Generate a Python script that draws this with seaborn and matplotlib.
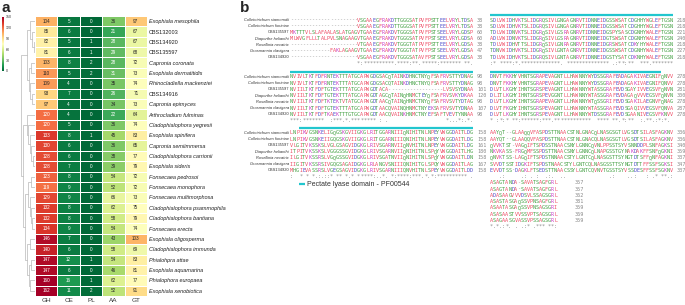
import pandas as pd
import seaborn as sns
import matplotlib.pyplot as plt

sns.set_theme(style="white")
plt.rcParams["font.family"] = ["Liberation Sans", "DejaVu Sans"]

# ---- panel a: CAZyme counts ----
species = ["Exophiala mesophila", "CBS132003", "CBS134920", "CBS135597", "Capronia coronata",
           "Exophiala dermatitidis", "Rhinocladiella mackenziei", "CBS134916", "Capronia epimyces",
           "Arthrocladium fulminas", "Cladophialophora yegresii", "Exophiala spinifera",
           "Capronia semiimmersa", "Cladophialophora carrionii", "Exophiala sideris",
           "Fonsecaea pedrosoi", "Fonsecaea monophora", "Fonsecaea multimorphosa",
           "Cladophialophora psammophila", "Cladophialophora bantiana", "Fonsecaea erecta",
           "Exophiala oligosperma", "Cladophialophora immunda", "Phialohpra attae",
           "Exophiala aquamarina", "Phialophora europaea", "Exophiala xenobiotica"]
GH = [104, 85, 82, 81, 103, 110, 109, 93, 97, 120, 120, 133, 130, 128, 128, 123, 119, 129,
      132, 132, 134, 146, 140, 147, 147, 160, 162]
CE = [5, 6, 5, 6, 8, 5, 4, 7, 4, 4, 5, 8, 6, 6, 7, 8, 9, 9, 8, 8, 9, 7, 6, 12, 6, 16, 11]
PL = [0, 0, 1, 1, 2, 2, 0, 0, 0, 0, 0, 1, 0, 0, 0, 0, 0, 0, 0, 0, 0, 0, 0, 1, 0, 1, 2]
AA = [36, 21, 28, 29, 28, 31, 35, 26, 34, 22, 36, 45, 36, 38, 39, 54, 52, 66, 62, 58, 54,
      43, 58, 54, 46, 62, 52]
GT = [97, 67, 67, 68, 72, 73, 74, 71, 73, 64, 74, 83, 65, 77, 79, 72, 72, 73, 75, 79, 74,
      103, 69, 83, 81, 77, 91]
families = ["GH", "CE", "PL", "AA", "GT"]

# clustering of the rows: (merge height, left, right), leaves are row indices
top_clade = (0.6, (0.35, 0, (0.25, 1, (0.1, 2, 3))), (0.45, (0.3, 4, 5), (0.35, 6, (0.2, 7, 8))))
bottom_clade = (0.85, (0.6, 9, (0.5, 10, (0.4, 11, (0.3, 12, (0.15, 13, 14))))),
                (0.7, (0.5, (0.3, 15, 16), (0.4, 17, (0.3, 18, (0.2, 19, 20)))),
                 (0.55, (0.4, 21, 22), (0.45, (0.3, 23, 24), (0.35, 25, 26)))))
tree = (1.0, top_clade, bottom_clade)

# ---- panel b: alignment ----
aln_names = ["Colletotrichum siamomdii", "Colletotrichum fioriniae", "CBS135597",
             "Diaporthe helianthi", "Rosellinia necatrix", "Grosmannia clavigera", "CBS134920"]
blk1 = ["----------------------VSGAAEGFRAKDTTGGGSATPVFPSTTEELVRYLTDSA",
        "----------------------VSGAAEGFRAKDTTGGGSATPVFPSTTEELVRYLTDSA",
        "MKTTTVLSLAFAALASLATGAGVTGAAEGFRAKDVTGGGSATPVFPSTSEELVRYLGDSP",
        "MLWVGFLLLTALPVLSNAGAAGVTGAAEGFRAKDVTGGGSATPVFPSTSEELVRYLGDSA",
        "----------------------VTGAAEGFRAKDVTGGGTATPVFPSTTEELVRYLGDSA",
        "-------------FAKLAGAAGVTGAAEGFRAKDVTGGGTATPVFPSTSEELVRYLGDSA",
        "----------------------VSGAAEGFRAKDVTGGGSATAVFPSTSEELVRYLGDSA"]
blk2 = ["NVIVLTKTFDFRNTEKTTTATGCAPWGDGSACQTAINKDHNCTNYQFSAFRVSTTYDNAG",
        "NVIVLTKTFDFRNTEKTTTATGCAPWGDGSACQTAINKDHNCTNYQFSAFRVSTTYDNAG",
        "NVIILTKTFDFTGTEKTTTATGCAPWGDTACA------------------LVSVSYDNAA",
        "NVIILTKTFDFTGTEKTTTATGCAPWGDTAGCQTAINQHNMCTEYQFSAFRVSVKYDKAA",
        "NVIILTKTFDFTKTEKTVTATGCAPWGDTAACQTAINQHNMCTNYQFSAFRVSVTYDTAG",
        "NVIILTKTFDFTGTEKTTTATGCAPWGDTAACQVAINQHNMCTNYEKSAFRVSVTYDNAA",
        "NVIILTKTFDFTKAEKTTTGTGCAPWGDTAACQVAINKHNMCTNYEFSAFTVEVTYNNAA"]
blk3 = ["LNPIKVGSNKELIGQGSKGVIIGKGLRITGGARNIIIQNIHITNLNPEYVWGGDAITLDG",
        "LNPIKVGSNKEIIGQGSKGVIIGKGLRITGGARNIIIQNIHITNLNPEYVWGGDAITLDG",
        "VLGITVKSSKSLVGLGSAGVIDGKGLRIVSGARNVIIQNVHITNLNPEYVWGGDAITLDG",
        "ITPITVKSSKSLVGGGSSGVIDGKGLRIVSGARNVIIQNIHITNLSPQYVWGGDAITLHG",
        "ILGITVKSSRSLVGQGSSGVIDGKGLRIVSGATNVIIQNIHITNLSPQYVWGGDAITLDN",
        "IIGITVKSSRSIVGQGSAGAIDGKGLRLANGVSNIIIQNIHITGLSPQYVWGGDAITLAG",
        "MHGIEVASSRSLVGEGSAGVIDGKGLRIVSGARNIIIQNVHITNLSPEYVWGGDAITLDD"]
blk4 = ["SDLVWIDHVKTSLIDGRQSIVLGNGAGNRVTIDNNEIDGSSWSATCDGHHYWGLEFTGSN",
        "SDLVWIDHVKTSLIDGRQSIVLGNGAGNRVTIDNNEIDGSSWSATCDGHHYWGLEFTGSN",
        "TDLVWIDNVKTSLIDGRQSIVLGSRAGNRVTIDNNEIDGSPYSASCDGNHYWALEFTGSN",
        "ADLVWIDNVKTSLIDGRQSIVLGSRAGNRVTIDNNEIDGTSWSATCDGNHYWALEFTGSN",
        "TDLVWIDHVTTSLIDGRQSIVLGNRAGNRVTIDNNEIDGRSWSATCDKYHYWALEFTGSN",
        "TDNVWIDHVKTSLIDGRQSIVLGNTAGNRVTIDNNEIDGSSWSATCDGNHYWALEFTGSN",
        "TDLVWIDHVKTSLIDGRQSIVLGNTAGNRVTIDNNEIDGSTYSATCDKNHYWALEFTGSN"]
blk5 = ["DNVTFKKHYVHNTSGRAPEVAGNTLLHAWNNYWYDSSGRAFEADAGAKIVAEGNIFQNVV",
        "DNVTFKKHYVHNTSGRAPEVAGNTLLHAWNNYWYDSSGRAFEADAGAKIVAEGNIFQNVV",
        "DLVTLKGHYIHNTSGRSPEVAGNTLLHAWNNYWTASSGRAFEVDSGAYIVVEGSVFQNVN",
        "DLITLKGHYIHNTSGRSPEVGGNTLLHAWNNYWTASSGRAFEVDAGAQVVVEGSVFQNVN",
        "DLVTLKGHYIHNTSGRAPEVAGNTLLHAWNNYWTQSSGRIFEVDSGAKILAEGNVFQNAG",
        "DLVTFKGHYIHNTSGRSPEVAGNTLLHAWNNYWTASSGRAFEVDSGAQIVVEGSVFQNVA",
        "DLVTLKGHYIHNTSGRSPEVAGNTLLHAWNNYWTDSSGRAFEVDSGAANIVEGSVFKNVV"]
blk6 = ["AAYQT--GLAAQQVFASPDSTTNAACSTNLGNACQLNASGSGTLVGSDTSILASFAGKNV",
        "AAYQT--GLAAQQVFASPDSTTNAACSTNLGNACQLNASGSGTLVGSDTSILASFAGKNV",
        "QVVKTST-VAGQIFTSPDSSTNAACSNYLGNNCQVNLPPSSTSYVSNNDDPLSNFAGKSI",
        "NKVKASS-FRGQMFSSPDSTTNAACSNYLGNNCQLNAPGSSTGYNAKDAKFFSNFQGKNI",
        "QNVKTSS-LAGQIFTSPDSTNNAACSTYLGNTCQLNASGSTTSYNGTDTSFFQNFAGKNI",
        "SVVDTSSTIDGKIFTSPDSTNAACSTYLGNTCQLNASGSSTTSYNGTDTTFFSSFSGKSI",
        "EVVDTSS-DAGKLFTSEDSTTNAACSSYLGNTCQVNVTGSSTSYVSSDESFFSSFSGKNV"]
blk7 = ["ASAGTANDA-SAVATSAGFGRL",
        "ASAGTANDA-SAVATSAGFGRL",
        "ADASAAGVVVDSVLSSAGSGRL",
        "ASASTASGAQSSVPNSAGFGRL",
        "ASAATASGAQSSVPNSAGSGRI",
        "ASASAASTVVSSVPTSAGSGRL",
        "ASAGAASGVASSVPSSAGSGRL"]
ends1 = [38, 38, 60, 60, 38, 47, 38]
ends2 = [98, 98, 101, 120, 98, 107, 98]
ends3 = [158, 158, 161, 180, 158, 167, 158]
ends4 = [218, 218, 221, 240, 218, 227, 218]
ends5 = [278, 278, 281, 300, 278, 287, 278]
ends6 = [336, 336, 340, 359, 337, 347, 337]
ends7 = [357, 357, 362, 381, 359, 369, 359]
domain_cols = [None, (0, 60), (3, 60), (0, 60), (0, 56), None, None]  # PF00544 span per block

# ---------------------------------------------------------------
W, H = 685, 305
fig = plt.figure(figsize=(W / 100, H / 100), dpi=100)

def fx(px):
    return px / W

def fy(py):
    return 1 - py / H

df = pd.DataFrame({"GH": GH, "CE": CE, "PL": PL, "AA": AA, "GT": GT}, index=species)[families]

ax = fig.add_axes([fx(35), fy(296), fx(147) - fx(35), fy(16) - fy(296)])
cax = fig.add_axes([fx(1.5), fy(71), fx(4.5) - fx(1.5), fy(17) - fy(71)])
sns.heatmap(df, cmap="RdYlGn_r", vmin=0, vmax=150, annot=True, fmt="d",
            annot_kws={"size": 3.3}, linewidths=0.5, linecolor="white",
            ax=ax, cbar_ax=cax, cbar_kws={"ticks": [0, 30, 60, 90, 120, 150]})
ax.yaxis.tick_right()
ax.set_yticks([i + 0.5 for i in range(len(species))])
ax.set_yticklabels(species, rotation=0, fontsize=4, color="#222222")
for lab in ax.get_yticklabels():
    if not lab.get_text().startswith("CBS"):
        lab.set_style("italic")
ax.set_xticklabels(families, fontsize=4.6, color="#333333")
ax.tick_params(length=0, pad=1.2)
ax.set_xlabel("")
ax.set_ylabel("")
cax.tick_params(labelsize=2.6, length=0, pad=1, colors="#333333")
ax.collections[0].colorbar.outline.set_visible(False)

# dendrogram
dax = fig.add_axes([fx(21), fy(296), fx(35) - fx(21), fy(16) - fy(296)])

def draw(node):
    if isinstance(node, int):
        return 0.0, node + 0.5
    h, left, right = node
    hl, yl = draw(left)
    hr, yr = draw(right)
    dax.plot([hl, h, h, hr], [yl, yl, yr, yr], color="#b8b8b8", lw=0.5)
    return h, (yl + yr) / 2

draw(tree)
dax.set_xlim(1.02, 0)
dax.set_ylim(len(species), 0)
dax.axis("off")

fig.text(fx(1), fy(1), "a", fontsize=11, fontweight="bold", va="top", ha="left")
fig.text(fx(240), fy(1), "b", fontsize=11, fontweight="bold", va="top", ha="left")

# alignment panel
bax = fig.add_axes([0, 0, 1, 1])
bax.set_xlim(0, W)
bax.set_ylim(H, 0)
bax.axis("off")
bax.patch.set_visible(False)

clustal = {}
for aa_set, col in [("AVFPMILW", "#ee4a63"), ("DE", "#4848c8"), ("RK", "#c83ec8"),
                    ("STYHCNGQ", "#3e9e3e")]:
    for c in aa_set:
        clustal[c] = col

strong = ["STA", "NEQK", "NHQK", "NDEQ", "QHRK", "MILV", "MILF", "HY", "FYW"]
weak = ["CSA", "ATV", "SAG", "STNK", "STPA", "SGND", "SNDEQK", "NDEQHK", "NEQHRK", "FVLIM", "HFY"]

def consensus(rows):
    out = ""
    for i in range(len(rows[0])):
        col = set(r[i] for r in rows)
        if "-" in col:
            out += " "
        elif len(col) == 1:
            out += "*"
        elif any(col <= set(g) for g in strong):
            out += ":"
        elif any(col <= set(g) for g in weak):
            out += "."
        else:
            out += " "
    return out

cw = 3.05
dy = 6.2
mono = dict(family="DejaVu Sans Mono", fontsize=3.66, ha="center", va="center")
blocks = [(blk1, ends1, 290, 20, 477), (blk2, ends2, 290, 77, 477), (blk3, ends3, 290, 133, 477),
          (blk4, ends4, 490, 20, 677), (blk5, ends5, 490, 77, 677), (blk6, ends6, 490, 133, 677),
          (blk7, ends7, 490, 183, 575)]

for b, (rows, ends, x0, y0, xn) in enumerate(blocks):
    for r, seq in enumerate(rows):
        y = y0 + r * dy
        for i, c in enumerate(seq):
            bax.text(x0 + (i + 0.5) * cw, y, c, color=clustal.get(c, "#999999"), **mono)
        bax.text(xn, y, str(ends[r]), family="DejaVu Sans Mono", fontsize=3.66,
                 color="#888888", ha="left", va="center")
        if x0 < 400:
            bax.text(x0 - 1, y, aln_names[r], fontsize=2.9, color="#333333", ha="right",
                     va="center", style="normal" if aln_names[r].startswith("CBS") else "italic")
    cons = consensus(rows)
    for i, c in enumerate(cons):
        if c != " ":
            bax.text(x0 + (i + 0.5) * cw, y0 + len(rows) * dy, c, color="#888888", **mono)
    if b < len(domain_cols) and domain_cols[b] is not None:
        c0, c1 = domain_cols[b]
        bax.plot([x0 + c0 * cw, x0 + c1 * cw], [y0 - 5, y0 - 5], color="#22c6ce", lw=1.6,
                 solid_capstyle="butt")

bax.plot([299, 305], [184, 184], color="#22c6ce", lw=1.6, solid_capstyle="butt")
bax.text(307, 184, "Pectate lyase domain - PF00544", fontsize=5, color="#333333",
         ha="left", va="center")

fig.savefig("out.png", dpi=100)
